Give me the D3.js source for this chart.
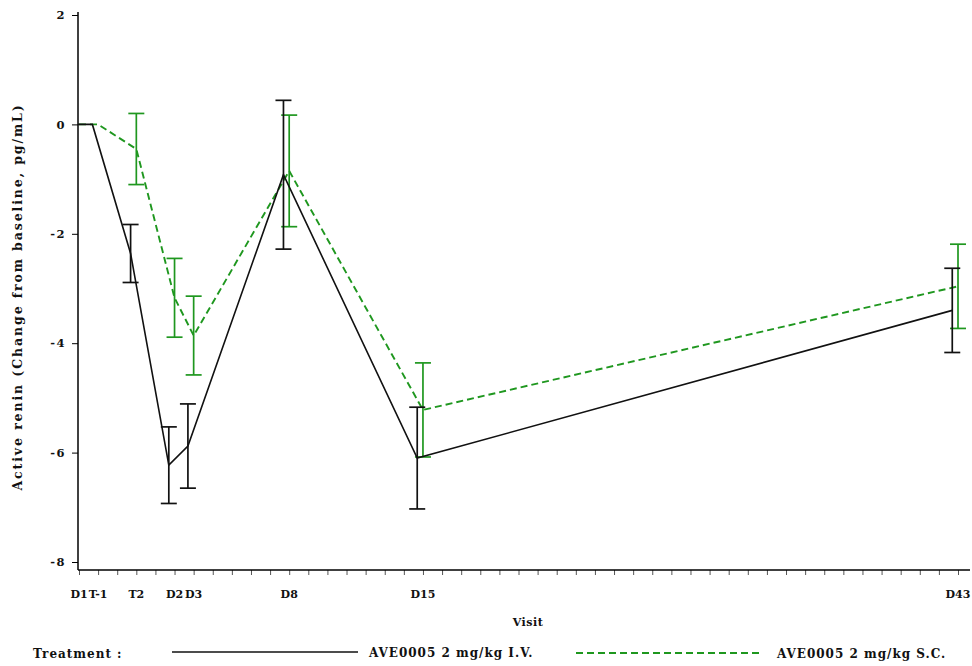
<!DOCTYPE html>
<meta charset="utf-8">
<style>
body { margin: 0; background: #fff; }
text {
  font-family: "DejaVu Serif", serif;
  font-weight: bold;
  fill: #111;
}
</style>
<body>
<script src="https://d3js.org/d3.v7.min.js"></script>
<script>

var width = 972,
    height = 666;

// visits and their position on the day axis
var visits = ["D1", "T-1", "T2", "D2", "D3", "D8", "D15", "D43"];
var visitPos = [0, 1, 3, 5, 6, 11, 18, 46];

// AVE0005 2 mg/kg I.V. (mean and error half width)
var ivMean = [0, 0, -2.36, -6.23, -5.88, -0.92, -6.10, -3.40];
var ivErr  = [null, null, 0.53, 0.70, 0.77, 1.36, 0.93, 0.77];

// AVE0005 2 mg/kg S.C.
var scMean = [0, 0, -0.45, -3.17, -3.86, -0.85, -5.22, -2.96];
var scErr  = [null, null, 0.65, 0.72, 0.72, 1.02, 0.86, 0.77];

var yTicks = [2, 0, -2, -4, -6, -8];

var x = d3.scaleLinear().domain([0, 46]).range([79, 958]);
var y = d3.scaleLinear().domain([-8, 2]).range([562, 15]);

var svg = d3.select("body").append("svg")
    .attr("width", width)
    .attr("height", height);

svg.append("defs").append("clipPath")
    .attr("id", "plot")
  .append("rect")
    .attr("x", 78).attr("y", 0)
    .attr("width", 900).attr("height", 570);

// y axis
var yAxis = svg.append("g")
    .attr("transform", "translate(78,0)")
    .call(d3.axisLeft(y).tickValues(yTicks).tickSize(6).tickPadding(6)
      .tickFormat(function(d) { return d < 0 ? "-" + (-d) : d; }));
yAxis.select(".domain").remove();
yAxis.append("line")
    .attr("y1", 12).attr("y2", 570)
    .attr("stroke", "#000").attr("stroke-width", 1.5);
yAxis.selectAll("text")
    .style("font-size", "11.5px")
    .style("letter-spacing", "1.5px")
    .attr("fill", "#111");

// x axis
var xAxis = svg.append("g")
    .attr("transform", "translate(0,570)")
    .call(d3.axisBottom(x).tickValues(d3.range(0, 47)).tickSize(5).tickFormat(""));
xAxis.select(".domain").remove();
xAxis.append("line")
    .attr("x1", 78).attr("x2", 970)
    .attr("stroke", "#000").attr("stroke-width", 1.5);
xAxis.selectAll(".tick line").attr("stroke", "#555");

svg.selectAll(".vlab")
    .data(visits)
  .enter().append("text")
    .attr("class", "vlab")
    .attr("x", function(d, i) { return x(visitPos[i]); })
    .attr("y", 598)
    .attr("text-anchor", "middle")
    .style("font-size", "11px")
    .text(function(d) { return d; });

svg.append("text")
    .attr("x", 528).attr("y", 626)
    .attr("text-anchor", "middle")
    .style("font-size", "11px")
    .style("letter-spacing", "0.5px")
    .text("Visit");

svg.append("text")
    .attr("transform", "translate(22,297) rotate(-90)")
    .attr("text-anchor", "middle")
    .style("font-size", "12.5px")
    .style("letter-spacing", "1.9px")
    .text("Active renin (Change from baseline, pg/mL)");

// series
var series = [
  { mean: scMean, err: scErr, off: 0, color: "#1f971f", dash: "7,4", w: 1.9 },
  { mean: ivMean, err: ivErr, off: -0.3, color: "#111", dash: null, w: 1.6 }
];

var line = d3.line()
    .x(function(d) { return x(d.x); })
    .y(function(d) { return y(d.y); });

var plot = svg.append("g").attr("clip-path", "url(#plot)");

series.forEach(function(s) {
  var pts = visitPos.map(function(p, i) {
    return { x: p + s.off, y: s.mean[i], e: s.err[i] };
  });

  plot.append("path")
      .datum(pts)
      .attr("fill", "none")
      .attr("stroke", s.color)
      .attr("stroke-width", s.w)
      .attr("stroke-dasharray", s.dash)
      .attr("d", line);

  var bars = plot.selectAll(null)
      .data(pts.filter(function(d) { return d.e != null; }))
    .enter().append("g")
      .attr("stroke", s.color)
      .attr("stroke-width", 1.7);

  bars.append("line")
      .attr("x1", function(d) { return x(d.x); })
      .attr("x2", function(d) { return x(d.x); })
      .attr("y1", function(d) { return y(d.y + d.e); })
      .attr("y2", function(d) { return y(d.y - d.e); });

  [1, -1].forEach(function(sign) {
    bars.append("line")
        .attr("x1", function(d) { return x(d.x) - 8; })
        .attr("x2", function(d) { return x(d.x) + 8; })
        .attr("y1", function(d) { return y(d.y + sign * d.e); })
        .attr("y2", function(d) { return y(d.y + sign * d.e); });
  });
});

// legend
var legend = svg.append("g");
legend.append("text")
    .attr("x", 33).attr("y", 658)
    .style("font-size", "12px")
    .style("letter-spacing", "1px")
    .text("Treatment :");

legend.append("line")
    .attr("x1", 172).attr("x2", 358)
    .attr("y1", 652).attr("y2", 652)
    .attr("stroke", "#111").attr("stroke-width", 1.6);
legend.append("text")
    .attr("x", 369).attr("y", 657)
    .style("font-size", "12px")
    .style("letter-spacing", "1px")
    .text("AVE0005 2 mg/kg I.V.");

legend.append("line")
    .attr("x1", 576).attr("x2", 762)
    .attr("y1", 653).attr("y2", 653)
    .attr("stroke", "#1f971f").attr("stroke-width", 1.9)
    .attr("stroke-dasharray", "7,4");
legend.append("text")
    .attr("x", 777).attr("y", 658)
    .style("font-size", "12px")
    .style("letter-spacing", "1px")
    .text("AVE0005 2 mg/kg S.C.");

</script>
